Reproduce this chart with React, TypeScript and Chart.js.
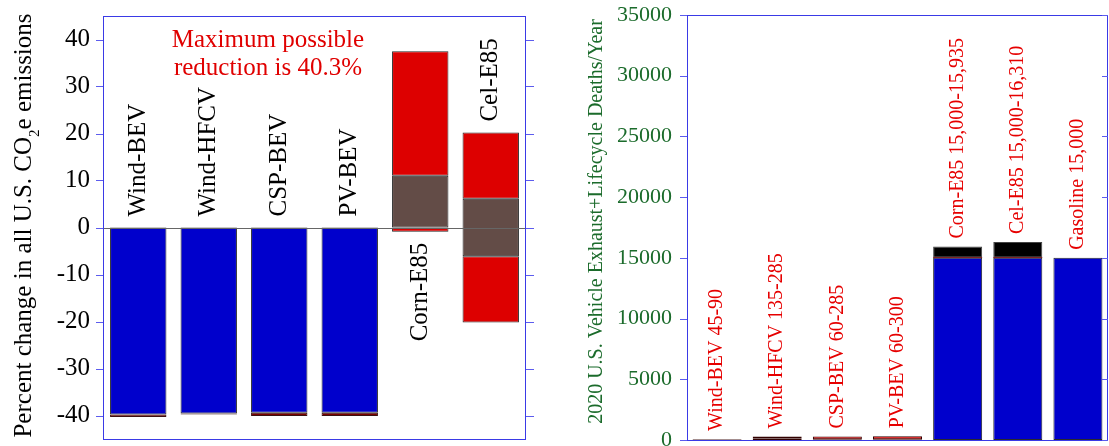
import React, { useEffect, useRef } from 'react';
import { Chart, registerables } from 'chart.js';

Chart.register(...registerables);

const FONT = "'Liberation Serif', 'Times New Roman', Times, serif";

// ---------- Left chart data ----------
const LEFT_CATEGORIES = ['Wind-BEV', 'Wind-HFCV', 'CSP-BEV', 'PV-BEV', 'Corn-E85', 'Cel-E85'];
const LEFT_LABEL_SIDE = ['above', 'above', 'above', 'above', 'below', 'above'];
const LEFT_BLUE = [[0, -39.8], [0, -39.6], [0, -39.4], [0, -39.4], null, null];
const LEFT_DARK_RED = [[-39.8, -40.3], [-39.6, -39.8], [-39.4, -40.1], [-39.4, -40.1], null, null];
const LEFT_BROWN = [null, null, null, null, [0, 11.0], [-6.1, 6.1]];
const LEFT_RED_UPPER = [null, null, null, null, [11.0, 37.5], [6.1, 20.2]];
const LEFT_RED_LOWER = [null, null, null, null, [-0.9, 0], [-20.2, -6.1]];
const LEFT_Y_MIN = -45;
const LEFT_Y_MAX = 45;
const LEFT_TICKS = [-40, -30, -20, -10, 0, 10, 20, 30, 40];
const LEFT_ANNOTATION = ['Maximum possible', 'reduction is 40.3%'];
const LEFT_ANNOTATION_X = 1.84;
const LEFT_ANNOTATION_Y = [38.3, 32.4];
const LEFT_Y_TITLE = ['Percent change in all U.S. CO', '2', 'e emissions'];

// ---------- Right chart data ----------
const RIGHT_CATEGORIES = ['Wind-BEV', 'Wind-HFCV', 'CSP-BEV', 'PV-BEV', 'Corn-E85', 'Cel-E85', 'Gasoline'];
const RIGHT_LABELS = [
  'Wind-BEV 45-90',
  'Wind-HFCV 135-285',
  'CSP-BEV 60-285',
  'PV-BEV 60-300',
  'Corn-E85 15,000-15,935',
  'Cel-E85 15,000-16,310',
  'Gasoline 15,000',
];
const RIGHT_BASE = [[0, 45], [0, 135], [0, 60], [0, 60], [0, 15000], [0, 15000], [0, 15000]];
const RIGHT_RANGE = [[45, 90], [135, 285], [60, 285], [60, 300], [15000, 15935], [15000, 16310], null];
const RIGHT_SEAM = [null, null, null, null, [15000, 15080], [15000, 15080], null];
const RIGHT_Y_MIN = 0;
const RIGHT_Y_MAX = 35000;
const RIGHT_TICKS = [0, 5000, 10000, 15000, 20000, 25000, 30000, 35000];
const RIGHT_Y_TITLE = '2020 U.S. Vehicle Exhaust+Lifecycle Deaths/Year';

// ---------- styles ----------
const BLUE = '#0000cc';
const RED = '#dd0000';
const DARK_RED = '#7a0000';
const BROWN = '#634c47';
const FRAME = '#3a3ae6';
const TICK_MARK = '#5c5cee';
const GREEN = '#1b6b2b';
const LABEL_RED = '#e60000';

function drawFrame(ctx: CanvasRenderingContext2D, a: any) {
  ctx.strokeStyle = FRAME;
  ctx.lineWidth = 1;
  ctx.strokeRect(Math.round(a.left) + 0.5, Math.round(a.top) + 0.5, Math.round(a.right - a.left) - 1, Math.round(a.bottom - a.top));
}

function catExtent(chart: any, i: number) {
  let top = 0;
  let bottom = 0;
  chart.data.datasets.forEach((ds: any) => {
    const v = ds.data[i];
    if (v) {
      top = Math.max(top, v[0], v[1]);
      bottom = Math.min(bottom, v[0], v[1]);
    }
  });
  return { top, bottom };
}

const leftDecor = {
  id: 'leftDecor',
  afterDraw(chart: any) {
    const { ctx, chartArea: a } = chart;
    const x = chart.scales.x;
    const y = chart.scales.y;
    ctx.save();
    // zero line
    const y0 = Math.round(y.getPixelForValue(0)) + 0.5;
    ctx.strokeStyle = '#666';
    ctx.lineWidth = 1;
    ctx.beginPath();
    ctx.moveTo(a.left, y0);
    ctx.lineTo(a.right, y0);
    ctx.stroke();
    // frame
    drawFrame(ctx, a);
    // tick marks
    ctx.strokeStyle = TICK_MARK;
    ctx.beginPath();
    LEFT_TICKS.forEach((v) => {
      const py = Math.round(y.getPixelForValue(v)) + 0.5;
      ctx.moveTo(a.left - 7, py);
      ctx.lineTo(a.left, py);
      ctx.moveTo(a.right, py);
      ctx.lineTo(a.right + 8, py);
    });
    ctx.stroke();
    // category labels
    ctx.fillStyle = '#000';
    ctx.font = `25px ${FONT}`;
    ctx.textBaseline = 'middle';
    LEFT_CATEGORIES.forEach((name, i) => {
      const { top, bottom } = catExtent(chart, i);
      const px = x.getPixelForValue(i);
      ctx.save();
      if (LEFT_LABEL_SIDE[i] === 'above') {
        ctx.translate(px, y.getPixelForValue(top) - 11);
        ctx.rotate(-Math.PI / 2);
        ctx.textAlign = 'left';
      } else {
        ctx.translate(px, y.getPixelForValue(bottom) + 11);
        ctx.rotate(-Math.PI / 2);
        ctx.textAlign = 'right';
      }
      ctx.fillText(name, 0, 0);
      ctx.restore();
    });
    // annotation
    ctx.fillStyle = '#e00000';
    ctx.textAlign = 'center';
    ctx.textBaseline = 'alphabetic';
    const ax = x.getPixelForValue(LEFT_ANNOTATION_X);
    LEFT_ANNOTATION.forEach((line, k) => {
      ctx.fillText(line, ax, y.getPixelForValue(LEFT_ANNOTATION_Y[k]));
    });
    // y title with subscript
    ctx.save();
    ctx.translate(31, (a.top + a.bottom) / 2 - 2);
    ctx.rotate(-Math.PI / 2);
    ctx.fillStyle = '#000';
    ctx.textAlign = 'left';
    ctx.textBaseline = 'alphabetic';
    ctx.font = `25px ${FONT}`;
    const w1 = ctx.measureText(LEFT_Y_TITLE[0]).width;
    const w3 = ctx.measureText(LEFT_Y_TITLE[2]).width;
    ctx.font = `15px ${FONT}`;
    const w2 = ctx.measureText(LEFT_Y_TITLE[1]).width;
    const total = w1 + w2 + w3;
    let sx = -total / 2;
    ctx.font = `25px ${FONT}`;
    ctx.fillText(LEFT_Y_TITLE[0], sx, 0);
    sx += w1;
    ctx.font = `15px ${FONT}`;
    ctx.fillText(LEFT_Y_TITLE[1], sx, 8);
    sx += w2;
    ctx.font = `25px ${FONT}`;
    ctx.fillText(LEFT_Y_TITLE[2], sx, 0);
    ctx.restore();
    ctx.restore();
  },
};

const rightDecor = {
  id: 'rightDecor',
  afterDraw(chart: any) {
    const { ctx, chartArea: a } = chart;
    const x = chart.scales.x;
    const y = chart.scales.y;
    ctx.save();
    drawFrame(ctx, a);
    ctx.strokeStyle = TICK_MARK;
    ctx.lineWidth = 1;
    ctx.beginPath();
    RIGHT_TICKS.forEach((v) => {
      const py = Math.round(y.getPixelForValue(v)) + 0.5;
      ctx.moveTo(a.left - 7, py);
      ctx.lineTo(a.left, py);
      ctx.moveTo(a.right - 6, py);
      ctx.lineTo(a.right, py);
    });
    ctx.stroke();
    // labels
    ctx.fillStyle = LABEL_RED;
    ctx.font = `20px ${FONT}`;
    ctx.textBaseline = 'middle';
    ctx.textAlign = 'left';
    RIGHT_LABELS.forEach((label, i) => {
      const { top } = catExtent(chart, i);
      ctx.save();
      ctx.translate(x.getPixelForValue(i), y.getPixelForValue(top) - 8);
      ctx.rotate(-Math.PI / 2);
      ctx.fillText(label, 0, 0);
      ctx.restore();
    });
    // y title
    ctx.save();
    ctx.translate(47, (a.top + a.bottom) / 2 - 6);
    ctx.rotate(-Math.PI / 2);
    ctx.fillStyle = GREEN;
    ctx.font = `20px ${FONT}`;
    ctx.textAlign = 'center';
    ctx.textBaseline = 'alphabetic';
    ctx.fillText(RIGHT_Y_TITLE, 0, 0);
    ctx.restore();
    ctx.restore();
  },
};

function yScale(min: number, max: number, tickValues: number[], fontSize: number, color: string, width: number, padding: number) {
  return {
    type: 'linear',
    min,
    max,
    grid: { display: false, drawTicks: false },
    border: { display: false },
    ticks: {
      font: { family: FONT, size: fontSize },
      color,
      padding,
      callback: (v: any) => String(v),
    },
    afterBuildTicks: (s: any) => {
      s.ticks = tickValues.map((v) => ({ value: v }));
    },
    afterFit: (s: any) => {
      s.width = width;
      s.paddingTop = 0;
      s.paddingBottom = 0;
      s.paddingLeft = 0;
      s.paddingRight = 0;
    },
  };
}

function barDefaults(barPct: number) {
  return {
    grouped: false,
    barPercentage: barPct,
    categoryPercentage: 1,
    borderSkipped: false,
    borderWidth: 1,
    borderColor: '#2a2a2a',
  };
}

export default function App() {
  const leftRef = useRef<HTMLCanvasElement | null>(null);
  const rightRef = useRef<HTMLCanvasElement | null>(null);

  useEffect(() => {
    const left = new Chart(leftRef.current as HTMLCanvasElement, {
      type: 'bar',
      data: {
        labels: LEFT_CATEGORIES,
        datasets: [
          { data: LEFT_DARK_RED as any, backgroundColor: DARK_RED, borderColor: '#3a1010' },
          { data: LEFT_BLUE as any, backgroundColor: BLUE },
          { data: LEFT_BROWN as any, backgroundColor: BROWN },
          { data: LEFT_RED_UPPER as any, backgroundColor: RED },
          { data: LEFT_RED_LOWER as any, backgroundColor: RED },
        ],
      },
      options: {
        responsive: false,
        animation: false,
        devicePixelRatio: 1,
        layout: { padding: { left: 0, top: 16, right: 29, bottom: 7 } },
        plugins: { legend: { display: false }, tooltip: { enabled: false }, title: { display: false } },
        datasets: { bar: barDefaults(0.8) as any },
        scales: {
          x: { type: 'category', display: false, offset: true, grid: { display: false } },
          y: yScale(LEFT_Y_MIN, LEFT_Y_MAX, LEFT_TICKS, 25, '#000', 103, 13) as any,
        },
      },
      plugins: [leftDecor],
    });

    const right = new Chart(rightRef.current as HTMLCanvasElement, {
      type: 'bar',
      data: {
        labels: RIGHT_CATEGORIES,
        datasets: [
          { data: RIGHT_SEAM as any, backgroundColor: DARK_RED, borderWidth: 0 },
          {
            data: RIGHT_RANGE as any,
            backgroundColor: [RED, RED, RED, RED, '#000', '#000', '#000'],
            borderColor: ['#300000', '#300000', '#300000', '#300000', '#444', '#444', '#444'],
          },
          {
            data: RIGHT_BASE as any,
            backgroundColor: [RED, RED, RED, RED, BLUE, BLUE, BLUE],
            borderColor: ['#300000', '#300000', '#300000', '#300000', '#2a2a2a', '#2a2a2a', '#2a2a2a'],
          },
        ],
      },
      options: {
        responsive: false,
        animation: false,
        devicePixelRatio: 1,
        layout: { padding: { left: 0, top: 15, right: 1, bottom: 6 } },
        plugins: { legend: { display: false }, tooltip: { enabled: false }, title: { display: false } },
        datasets: { bar: barDefaults(0.815) as any },
        scales: {
          x: { type: 'category', display: false, offset: true, grid: { display: false } },
          y: yScale(RIGHT_Y_MIN, RIGHT_Y_MAX, RIGHT_TICKS, 22, GREEN, 132, 15) as any,
        },
      },
      plugins: [rightDecor],
    });

    return () => {
      left.destroy();
      right.destroy();
    };
  }, []);

  return (
    <div style={{ position: 'fixed', left: 0, top: 0, width: 1109, height: 446, background: '#fff', overflow: 'hidden' }}>
      <canvas ref={leftRef} width={555} height={446} style={{ position: 'absolute', left: 0, top: 0, width: 555, height: 446 }} />
      <canvas ref={rightRef} width={554} height={446} style={{ position: 'absolute', left: 555, top: 0, width: 554, height: 446 }} />
    </div>
  );
}
